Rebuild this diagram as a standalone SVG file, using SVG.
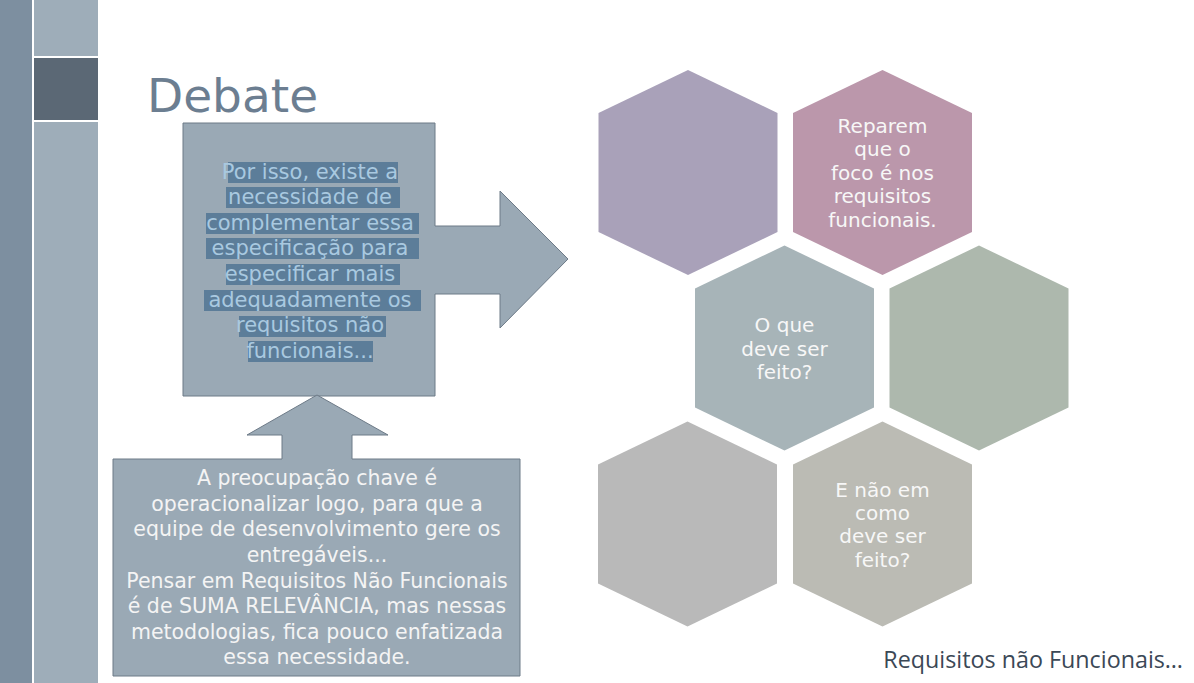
<svg xmlns="http://www.w3.org/2000/svg" width="1194" height="683" viewBox="0 0 1194 683">
  <style>
    .callout { fill: #9aa9b5; stroke: #6d7a87; stroke-width: 1; }
    .hl { fill: #5c7d99; }
    .hltxt { font-family: "DejaVu Sans", sans-serif; font-size: 21px; fill: #a9c9e0; text-anchor: middle; }
    .boxtxt { font-family: "DejaVu Sans", sans-serif; font-size: 20.5px; fill: #f4f4f4; text-anchor: middle; }
    .hextxt { font-family: "DejaVu Sans", sans-serif; font-size: 20px; fill: #f7f7f7; text-anchor: middle; }
  </style>

  <rect width="1194" height="683" fill="#ffffff"/>

  <!-- side bands -->
  <g id="sidebar">
    <rect x="0" y="0" width="32" height="683" fill="#7d8fa0"/>
    <rect x="34" y="0" width="64" height="56" fill="#9eadb9"/>
    <rect x="34" y="58" width="64" height="62" fill="#5b6875"/>
    <rect x="34" y="122" width="64" height="561" fill="#9eadb9"/>
  </g>

  <text id="title" x="147" y="112" font-family="DejaVu Sans, sans-serif" font-size="47" fill="#6c7e91">Debate</text>

  <!-- callout with right arrow -->
  <g id="node-especificacao">
    <path class="callout" d="M183,123 H435 V226 H500 V191 L568,259 L500,328 V294 H435 V396 H183 Z"/>
    <rect class="hl" x="228" y="162" width="170" height="21"/>
    <rect class="hl" x="226" y="187" width="174" height="21"/>
    <rect class="hl" x="206" y="213" width="213" height="21"/>
    <rect class="hl" x="206" y="238" width="213" height="21"/>
    <rect class="hl" x="226" y="264" width="174" height="21"/>
    <rect class="hl" x="204" y="290" width="217" height="21"/>
    <rect class="hl" x="239" y="316" width="147" height="21"/>
    <rect class="hl" x="248" y="341" width="125" height="21"/>
    <text class="hltxt" x="310" y="179">Por isso, existe a</text>
    <text class="hltxt" x="310" y="204">necessidade de</text>
    <text class="hltxt" x="310" y="230">complementar essa</text>
    <text class="hltxt" x="310" y="255">especificação para</text>
    <text class="hltxt" x="310" y="281">especificar mais</text>
    <text class="hltxt" x="310" y="307">adequadamente os</text>
    <text class="hltxt" x="310" y="332">requisitos não</text>
    <text class="hltxt" x="310" y="358">funcionais...</text>
  </g>

  <!-- callout with up arrow -->
  <g id="node-preocupacao">
    <path class="callout" d="M113,459 H282 V435 H247 L317,395 L388,435 H352 V459 H520 V676 H113 Z"/>
    <text class="boxtxt" x="317" y="485">A preocupação chave é</text>
    <text class="boxtxt" x="317" y="511">operacionalizar logo, para que a</text>
    <text class="boxtxt" x="317" y="536">equipe de desenvolvimento gere os</text>
    <text class="boxtxt" x="317" y="562">entregáveis...</text>
    <text class="boxtxt" x="317" y="588">Pensar em Requisitos Não Funcionais</text>
    <text class="boxtxt" x="317" y="613">é de SUMA RELEVÂNCIA, mas nessas</text>
    <text class="boxtxt" x="317" y="639">metodologias, fica pouco enfatizada</text>
    <text class="boxtxt" x="317" y="664">essa necessidade.</text>
  </g>

  <defs>
    <path id="hex" d="M0,-102.5 L89.5,-59.5 L89.5,59.5 L0,102.5 L-89.5,59.5 L-89.5,-59.5 Z"/>
  </defs>

  <g id="hex-1"><use href="#hex" x="688" y="172.5" fill="#a9a1b9"/></g>
  <g id="hex-2">
    <use href="#hex" x="882.5" y="172.5" fill="#bb97ab"/>
    <text class="hextxt" x="882.5" y="133">Reparem</text>
    <text class="hextxt" x="882.5" y="156">que o</text>
    <text class="hextxt" x="882.5" y="180">foco é nos</text>
    <text class="hextxt" x="882.5" y="203">requisitos</text>
    <text class="hextxt" x="882.5" y="227">funcionais.</text>
  </g>
  <g id="hex-3">
    <use href="#hex" x="784.5" y="348" fill="#a7b4b8"/>
    <text class="hextxt" x="784.5" y="332">O que</text>
    <text class="hextxt" x="784.5" y="356">deve ser</text>
    <text class="hextxt" x="784.5" y="379">feito?</text>
  </g>
  <g id="hex-4"><use href="#hex" x="979" y="348" fill="#adb8ad"/></g>
  <g id="hex-5"><use href="#hex" x="687.5" y="524" fill="#b9b9b9"/></g>
  <g id="hex-6">
    <use href="#hex" x="882.5" y="524" fill="#bbbbb4"/>
    <text class="hextxt" x="882.5" y="497">E não em</text>
    <text class="hextxt" x="882.5" y="520">como</text>
    <text class="hextxt" x="882.5" y="543">deve ser</text>
    <text class="hextxt" x="882.5" y="567">feito?</text>
  </g>

  <g id="connectors"/>

  <text id="footer" x="1183" y="668" text-anchor="end" font-family="Open Sans, sans-serif" font-size="23.3" fill="#3b4856">Requisitos não Funcionais…</text>
</svg>
